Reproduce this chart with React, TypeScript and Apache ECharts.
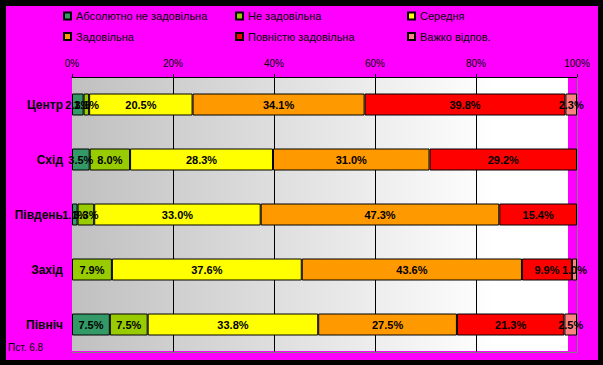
import React, { useEffect, useRef } from "react";
import * as echarts from "echarts";

const regions = ["Центр", "Схід", "Південь", "Захід", "Північ"];
const seriesNames = [
  "Абсолютно не задовільна",
  "Не задовільна",
  "Середня",
  "Задовільна",
  "Повністю задовільна",
  "Важко відпов.",
];
const absNotSatisfied = [2.3, 3.5, 1.1, 0, 7.5];
const notSatisfied = [1.1, 8.0, 3.3, 7.9, 7.5];
const average = [20.5, 28.3, 33.0, 37.6, 33.8];
const satisfied = [34.1, 31.0, 47.3, 43.6, 27.5];
const fullySatisfied = [39.8, 29.2, 15.4, 9.9, 21.3];
const hardToAnswer = [2.3, 0, 0, 1.0, 2.5];
const xTicks = [0, 20, 40, 60, 80, 100];
const colors = ["#339966", "#99CC00", "#FFFF00", "#FF9900", "#FF0000", "#FF8080"];

const allSeries = [absNotSatisfied, notSatisfied, average, satisfied, fullySatisfied, hardToAnswer];

export default function App() {
  const ref = useRef<HTMLDivElement>(null);
  useEffect(() => {
    if (!ref.current) return;
    const chart = echarts.init(ref.current, null, { renderer: "svg" });
    const sums = regions.map((_, i) => allSeries.reduce((s, arr) => s + arr[i], 0));
    const font = "Liberation Sans, Arial, sans-serif";
    const series = allSeries.map((arr, k) => ({
      name: seriesNames[k],
      type: "bar",
      stack: "total",
      barWidth: 22,
      itemStyle: { color: colors[k], borderColor: "#000", borderWidth: 1 },
      label: {
        show: true,
        position: "inside",
        color: "#000",
        fontWeight: "bold",
        fontSize: 11,
        fontFamily: font,
        formatter: (p: any) => (arr[p.dataIndex] > 0 ? arr[p.dataIndex].toFixed(1) + "%" : ""),
      },
      data: arr.map((v, i) => (v > 0 ? (v / sums[i]) * 100 : "-")),
    }));
    const legendCol = (left: number, data: string[]) => ({
      orient: "vertical",
      left,
      top: 9,
      padding: 0,
      itemWidth: 7,
      itemHeight: 7,
      itemGap: 6.5,
      icon: "rect",
      data,
      textStyle: { fontSize: 11, fontFamily: font, color: "#000", lineHeight: 14 },
    });
    chart.setOption({
      animation: false,
      backgroundColor: "#000",
      graphic: [
        {
          type: "rect",
          z: -10,
          silent: true,
          shape: { x: 6, y: 6, width: 592, height: 354 },
          style: { fill: "#FF00FF" },
        },
        {
          type: "rect",
          z: -9,
          silent: true,
          shape: { x: 72, y: 77, width: 496, height: 274 },
          style: {
            fill: new echarts.graphic.LinearGradient(0, 0, 1, 0, [
              { offset: 0, color: "#c0c0c0" },
              { offset: 0.85, color: "#ffffff" },
              { offset: 1, color: "#ffffff" },
            ]),
          },
        },
        {
          type: "text",
          left: 8,
          top: 342,
          style: { text: "Пст. 6.8", fontSize: 10, fontFamily: font, fill: "#000" },
        },
      ],
      legend: [
        legendCol(63, [seriesNames[0], seriesNames[3]]),
        legendCol(235, [seriesNames[1], seriesNames[4]]),
        legendCol(407, [seriesNames[2], seriesNames[5]]),
      ],
      grid: { left: 72, right: 26, top: 77, height: 275, containLabel: false },
      xAxis: [
        {
          type: "value",
          position: "top",
          min: xTicks[0],
          max: xTicks[xTicks.length - 1],
          interval: 20,
          axisLine: { show: true, lineStyle: { color: "#000", width: 1 } },
          axisTick: { show: true, length: 3, lineStyle: { color: "#000" } },
          axisLabel: {
            formatter: "{value}%",
            fontSize: 10,
            fontFamily: font,
            color: "#000",
            margin: 9,
          },
          splitLine: {
            show: true,
            lineStyle: { color: ["transparent", "#000", "#000", "#000", "#000", "#808080"], width: 1 },
          },
        },
        {
          type: "value",
          position: "bottom",
          min: 0,
          max: 100,
          axisLine: { show: true, lineStyle: { color: "#808080", width: 1 } },
          axisTick: { show: false },
          axisLabel: { show: false },
          splitLine: { show: false },
        },
      ],
      yAxis: {
        type: "category",
        inverse: true,
        data: regions,
        axisLine: { show: false },
        axisTick: { show: false },
        axisLabel: {
          color: "#000",
          fontWeight: "bold",
          fontSize: 12,
          fontFamily: font,
          margin: 9,
        },
      },
      series,
    });
    return () => chart.dispose();
  }, []);
  return (
    <div
      ref={ref}
      style={{ position: "fixed", left: 0, top: 0, width: 603, height: 365 }}
    />
  );
}
